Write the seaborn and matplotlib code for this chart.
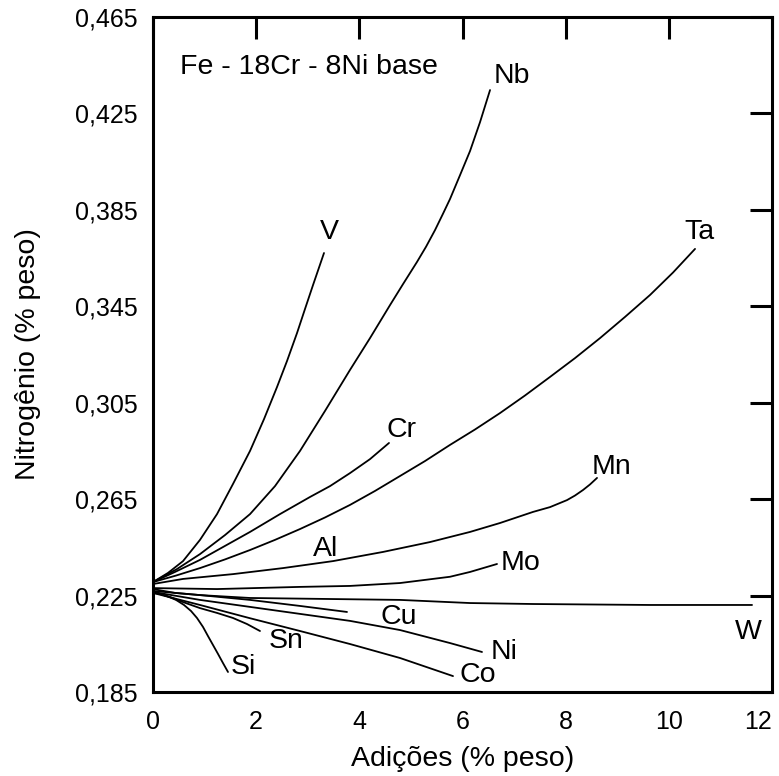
import matplotlib
matplotlib.use("Agg")
import matplotlib.pyplot as plt
import pandas as pd
import seaborn as sns

# curves (x = % addition, y = % N)
v_x = [0, 0.291, 0.582, 0.911, 1.241, 1.551, 1.881, 2.152, 2.404, 2.598, 2.792, 2.947, 3.102, 3.315]
v_y = [0.2306, 0.2344, 0.2393, 0.2481, 0.2588, 0.2713, 0.2850, 0.2982, 0.3115, 0.3223, 0.3339,
       0.3439, 0.3538, 0.3671]

nb_x = [0, 0.465, 0.911, 1.396, 1.881, 2.365, 2.850, 3.335, 3.819, 4.207, 4.595, 4.847, 5.118,
        5.293, 5.467, 5.622, 5.758, 5.952, 6.146, 6.340, 6.534]
nb_y = [0.2306, 0.2360, 0.2422, 0.2501, 0.2588, 0.2704, 0.2850, 0.3016, 0.3186, 0.3318, 0.3455,
        0.3542, 0.3634, 0.3697, 0.3766, 0.3834, 0.3895, 0.3994, 0.4094, 0.4214, 0.4347]

cr_x = [0, 0.427, 0.911, 1.396, 1.881, 2.462, 3.044, 3.431, 3.819, 4.207, 4.575]
cr_y = [0.2306, 0.2348, 0.2398, 0.2456, 0.2514, 0.2588, 0.2659, 0.2704, 0.2758, 0.2816, 0.2883]

ta_x = [0, 0.446, 0.911, 1.396, 1.881, 2.365, 2.850, 3.335, 3.819, 4.304, 4.789, 5.273, 5.758,
        6.243, 6.727, 7.212, 7.697, 8.181, 8.666, 9.151, 9.636, 10.081, 10.508]
ta_y = [0.2306, 0.2333, 0.2364, 0.2400, 0.2439, 0.2481, 0.2526, 0.2574, 0.2626, 0.2684, 0.2746,
        0.2808, 0.2875, 0.2939, 0.3007, 0.3080, 0.3157, 0.3235, 0.3318, 0.3406, 0.3497, 0.3590,
        0.3688]

mn_x = [0, 0.582, 1.551, 2.520, 3.490, 4.459, 5.370, 6.146, 6.727, 7.367, 7.697, 8.026, 8.181,
        8.337, 8.472, 8.608]
mn_y = [0.2298, 0.2319, 0.2339, 0.2364, 0.2393, 0.2431, 0.2472, 0.2514, 0.2551, 0.2597, 0.2617,
        0.2646, 0.2665, 0.2688, 0.2711, 0.2738]

mo_x = [0, 1.241, 2.850, 3.819, 4.789, 5.758, 6.146, 6.669]
mo_y = [0.2281, 0.2277, 0.2286, 0.2290, 0.2302, 0.2328, 0.2348, 0.2381]

w_x = [0, 0.427, 0.911, 1.881, 4.789, 6.146, 7.367, 9.636, 11.613]
w_y = [0.2277, 0.2261, 0.2252, 0.2240, 0.2232, 0.2219, 0.2215, 0.2211, 0.2211]

cu_x = [0, 0.911, 1.881, 2.850, 3.761]
cu_y = [0.2269, 0.2252, 0.2232, 0.2207, 0.2182]

ni_x = [0, 0.911, 1.881, 2.850, 3.819, 4.789, 5.758, 6.378]
ni_y = [0.2265, 0.2232, 0.2203, 0.2174, 0.2145, 0.2107, 0.2053, 0.2016]

co_x = [0, 0.911, 1.881, 2.850, 3.819, 4.789, 5.816]
co_y = [0.2261, 0.2211, 0.2156, 0.2103, 0.2049, 0.1991, 0.1916]

sn_x = [0, 0.330, 0.582, 0.911, 1.241, 1.551, 1.822, 2.074]
sn_y = [0.2265, 0.2244, 0.2223, 0.2198, 0.2178, 0.2157, 0.2132, 0.2103]

si_x = [0, 0.136, 0.291, 0.446, 0.601, 0.737, 0.853, 0.969, 1.066, 1.163, 1.260, 1.357, 1.454]
si_y = [0.2261, 0.2257, 0.2246, 0.2232, 0.2211, 0.2186, 0.2157, 0.2120, 0.2082, 0.2045, 0.2008,
        0.1970, 0.1933]

curves = {"V": (v_x, v_y), "Nb": (nb_x, nb_y), "Cr": (cr_x, cr_y), "Ta": (ta_x, ta_y),
          "Mn": (mn_x, mn_y), "Mo": (mo_x, mo_y), "W": (w_x, w_y), "Cu": (cu_x, cu_y),
          "Ni": (ni_x, ni_y), "Co": (co_x, co_y), "Sn": (sn_x, sn_y), "Si": (si_x, si_y)}

# label text and where it sits
labels = ["Nb", "V", "Ta", "Cr", "Mn", "Mo", "Al", "Cu", "W", "Ni", "Co", "Sn", "Si"]
label_x = [6.95, 3.41, 10.59, 4.82, 8.88, 7.13, 3.35, 4.77, 11.54, 6.80, 6.29, 2.58, 1.76]
label_y = [0.4405, 0.3758, 0.3758, 0.2937, 0.2785, 0.2384, 0.2443, 0.2162, 0.2097, 0.2014,
           0.1921, 0.2062, 0.1954]

x_ticks = [0, 2, 4, 6, 8, 10, 12]
y_ticks = [0.185, 0.225, 0.265, 0.305, 0.345, 0.385, 0.425, 0.465]

rows = []
for name, (xs, ys) in curves.items():
    for x, y in zip(xs, ys):
        rows.append({"el": name, "x": x, "y": y})
df = pd.DataFrame(rows)

sns.set_style("white")
plt.rcParams["font.family"] = ["Liberation Sans", "DejaVu Sans"]
plt.rcParams["text.color"] = "black"
plt.rcParams["axes.labelcolor"] = "black"

fig = plt.figure(figsize=(7.79, 7.76), dpi=100)
ax = fig.add_axes([153 / 779, 84 / 776, 619 / 779, 675 / 776])

sns.lineplot(data=df, x="x", y="y", units="el", estimator=None, sort=False,
             color="black", linewidth=1.3, ax=ax)
for ln in ax.lines:
    ln.set_solid_joinstyle("round")

for t, x, y in zip(labels, label_x, label_y):
    ax.text(x, y, t, ha="center", va="center", fontsize=20.5)
ax.text(0.52, 0.4443, "Fe - 18Cr - 8Ni base", ha="left", va="center", fontsize=20.5)

ax.set_xlim(0, 12)
ax.set_ylim(0.185, 0.465)
ax.set_xticks(x_ticks)
ax.set_xticklabels([str(t) for t in x_ticks])
ax.set_yticks(y_ticks)
ax.set_yticklabels([f"{t:.3f}".replace(".", ",") for t in y_ticks])
ax.tick_params(direction="in", length=16, width=2.2, top=True, right=True,
               labelsize=18, colors="black")
ax.tick_params(axis="y", pad=11)
ax.tick_params(axis="x", pad=13)
ax.get_xticklabels()[-1].set_ha("right")
for s in ax.spines.values():
    s.set_linewidth(2.2)
    s.set_color("black")

ax.set_xlabel("Adições (% peso)", fontsize=20.5, va="center")
ax.set_ylabel("Nitrogênio (% peso)", fontsize=20.5, va="center")
ax.xaxis.set_label_coords(0.5, (692 - 759) / 675)
ax.yaxis.set_label_coords((28 - 153) / 619, 0.5)

fig.savefig("out.png", dpi=100)
